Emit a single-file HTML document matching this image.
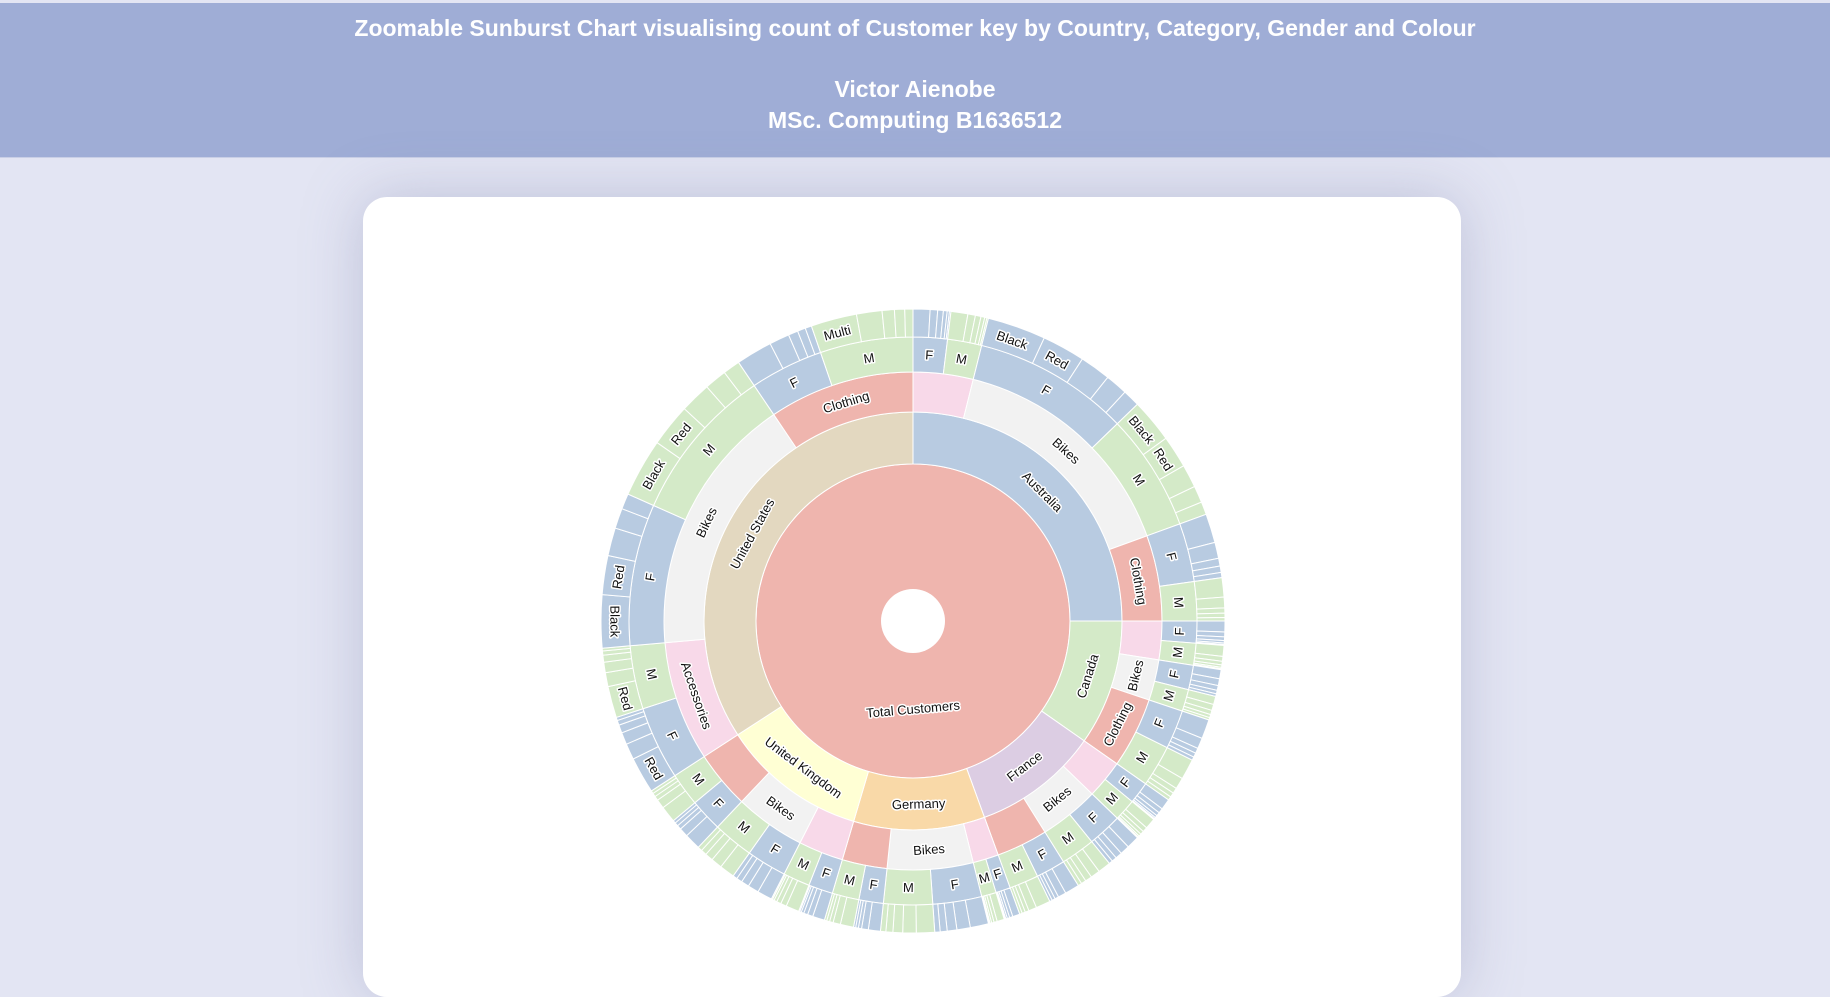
<!DOCTYPE html>
<html><head><meta charset="utf-8">
<style>
html,body{margin:0;padding:0;width:1830px;height:935px;overflow:hidden;background:#e3e5f3;font-family:"Liberation Sans",Arial,sans-serif;}
#hdr{position:absolute;left:0;top:3px;width:1830px;height:154px;background:#9fadd6;color:#fff;text-align:center;font-weight:bold;border-bottom:1px solid #c9cfe6;}
#hdr .t{position:absolute;left:0;right:0;top:12px;font-size:23px;}
#hdr .n{position:absolute;left:0;right:0;top:71px;font-size:23px;line-height:31px;}
#card{position:absolute;left:363px;top:197px;width:1098px;height:800px;background:#fff;border-radius:24px;box-shadow:0 0 60px rgba(120,125,170,0.35);}
svg{position:absolute;left:0;top:0;}
text{font-family:"Liberation Sans",Arial,sans-serif;font-size:13px;fill:#111;paint-order:stroke;stroke:#fff;stroke-width:3px;stroke-linejoin:round;}
</style></head><body>
<div id="hdr">
<div class="t">Zoomable Sunburst Chart visualising count of Customer key by Country, Category, Gender and Colour</div>
<div class="n">Victor Aienobe<br>MSc. Computing B1636512</div>
</div>
<div id="card"></div>
<svg id="chart" width="1830" height="935"></svg>
<script>
const countries=["Australia","Canada","France","Germany","United Kingdom","United States"];
const categories=["Accessories","Bikes","Clothing"];
const genders=["F","M"];
// counts [category][gender]
const countsAustralia=[[70,70],[320,240],[120,80]];
const countsCanada=[[45,45],[50,45],[80,85]];
const countsFrance=[[45,45],[70,70],[60,60]];
const countsGermany=[[30,30],[100,100],[50,55]];
const countsUK=[[50,55],[82,83],[67,68]];
const countsUS=[[150,130],[290,320],[150,190]];
const colourNames=[["Red","Black","Silver","NA","White","Blue"],["Black","Red","Silver","Yellow","Blue"],["Multi","Black","White","Yellow","Blue"]];
const colourShares=[[45,20,15,10,6,4],[34,25,18,13,10],[45,25,12,10,8]];
const countryFill=["#b8cbe1","#d4eac8","#dccde3","#f9d9a8","#ffffd4","#e3d8c0"];
const catFill=["#f8d9e9","#f2f2f2","#efb5ae"];
const genderFill=["#b8cbe1","#d4eac8"];
const allCounts=[countsAustralia,countsCanada,countsFrance,countsGermany,countsUK,countsUS];

const cx=913,cy=621;
const radii=[32,157,209,249,284,312];
const svg=document.getElementById('chart');
const NS='http://www.w3.org/2000/svg';
let total=0;allCounts.forEach(c=>c.forEach(g=>g.forEach(v=>total+=v)));
function ang(v){return v/total*360;}
function pt(a,r){const t=a*Math.PI/180;return [cx+r*Math.sin(t),cy-r*Math.cos(t)];}
function arcPath(a0,a1,r0,r1){
  const lg=(a1-a0)>180?1:0;const p0=pt(a0,r1),p1=pt(a1,r1),p2=pt(a1,r0),p3=pt(a0,r0);
  return `M${p0[0]},${p0[1]}A${r1},${r1} 0 ${lg} 1 ${p1[0]},${p1[1]}L${p2[0]},${p2[1]}A${r0},${r0} 0 ${lg} 0 ${p3[0]},${p3[1]}Z`;
}
const root=document.createElementNS(NS,'circle');
root.setAttribute('cx',cx);root.setAttribute('cy',cy);root.setAttribute('r',radii[1]);
root.setAttribute('fill','#efb5ae');root.setAttribute('stroke','#fff');


svg.appendChild(root);
const gArcs=document.createElementNS(NS,'g');svg.appendChild(gArcs);
const gText=document.createElementNS(NS,'g');svg.appendChild(gText);
const rt=document.createElementNS(NS,'text');
rt.setAttribute('transform',`translate(${cx},${cy+88}) rotate(-5)`);
rt.setAttribute('text-anchor','middle');rt.setAttribute('dy','0.35em');
rt.textContent='Total Customers';


gText.appendChild(rt);
function seg(a0,a1,depth,fill,label,name){
  const p=document.createElementNS(NS,'path');
  p.setAttribute('d',arcPath(a0,a1,radii[depth],radii[depth+1]));
  p.setAttribute('fill',fill);p.setAttribute('stroke','#fff');p.setAttribute('stroke-width','1');
  
  
  gArcs.appendChild(p);
  const rm=(radii[depth]+radii[depth+1])/2;const m=(a0+a1)/2;
  const arcLen=(a1-a0)*Math.PI/180*rm;
  if(arcLen<label.length*6.5+4) return;
  const t=document.createElementNS(NS,'text');
  const [x,y]=pt(m,rm);const rot=(m>90&&m<270)?m-180:m;
  t.setAttribute('transform',`translate(${x},${y}) rotate(${rot})`);
  t.setAttribute('text-anchor','middle');t.setAttribute('dy','0.35em');
  t.textContent=label;
  
  
  gText.appendChild(t);
}
let acc=0;
countries.forEach((c,ci)=>{
  const cs=allCounts[ci];let csum=0;cs.forEach(g=>g.forEach(v=>csum+=v));
  seg(ang(acc),ang(acc+csum),1,countryFill[ci],c,'country-'+c.toLowerCase().replace(/ /g,'-'));
  let a2=acc;
  categories.forEach((k,ki)=>{
    const ksum=cs[ki][0]+cs[ki][1];
    seg(ang(a2),ang(a2+ksum),2,catFill[ki],k,'category-'+ci+'-'+k.toLowerCase());
    let a3=a2;
    genders.forEach((g,gi)=>{
      const v=cs[ki][gi];
      seg(ang(a3),ang(a3+v),3,genderFill[gi],g,'gender-'+ci+'-'+ki+'-'+g);
      const sh=colourShares[ki];const ssum=sh.reduce((s,x)=>s+x,0);
      let a4=a3;
      sh.forEach((s,si)=>{
        const w=v*s/ssum;
        seg(ang(a4),ang(a4+w),4,genderFill[gi],colourNames[ki][si],'colour-'+ci+'-'+ki+'-'+g+'-'+si);
        a4+=w;
      });
      a3+=v;
    });
    a2+=ksum;
  });
  acc+=csum;
});
const hole=document.createElementNS(NS,'circle');
hole.setAttribute('cx',cx);hole.setAttribute('cy',cy);hole.setAttribute('r',radii[0]);hole.setAttribute('fill','#fff');


svg.appendChild(hole);
</script>
</body></html>
